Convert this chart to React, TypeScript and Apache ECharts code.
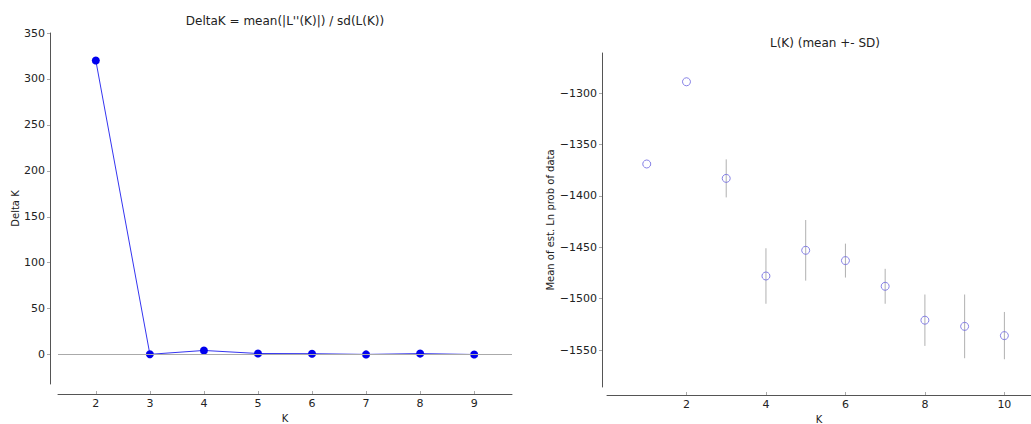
import React, { useEffect, useRef } from "react";
import * as echarts from "echarts";

// Left panel: DeltaK
const deltaKs = [2, 3, 4, 5, 6, 7, 8, 9];
const deltaValues = [320, 0.3, 4.5, 1.2, 1.0, 0.2, 1.1, 0.1];
const deltaYTicks = [0, 50, 100, 150, 200, 250, 300, 350];
const deltaXTicks = [2, 3, 4, 5, 6, 7, 8, 9];

// Right panel: L(K) mean +- SD
const lkKs = [1, 2, 3, 4, 5, 6, 7, 8, 9, 10];
const lkMeans = [-1369, -1289, -1383, -1478, -1453, -1463, -1488, -1521, -1527, -1536];
const lkSDs = [0, 0, 18.5, 27, 29.5, 16.5, 17, 25, 31, 23];
const lkYTicks = [-1550, -1500, -1450, -1400, -1350, -1300];
const lkXTicks = [2, 4, 6, 8, 10];

const FONT = "DejaVu Sans";
const AXIS_COLOR = "#555";
const TEXT_COLOR = "#222";

export default function App() {
  const ref = useRef<HTMLDivElement>(null);
  useEffect(() => {
    if (!ref.current) return;
    const chart = echarts.init(ref.current, undefined, { renderer: "svg" });
    const minus = (v: number) => String(v).replace("-", "\u2212");
    const axisCommon = {
      axisLine: { show: true, onZero: false, lineStyle: { color: AXIS_COLOR, width: 1 } },
      splitLine: { show: false },
      nameTextStyle: { fontFamily: FONT, fontSize: 10, color: TEXT_COLOR },
    };
    chart.setOption({
      animation: false,
      backgroundColor: "#fff",
      textStyle: { fontFamily: FONT },
      grid: [
        { left: 58, right: 1031 - 512, top: 33, bottom: 424 - 384, outerBoundsMode: "none", containLabel: false },
        { left: 607, right: 0, top: 53, bottom: 424 - 387, outerBoundsMode: "none", containLabel: false },
      ],
      xAxis: [
        {
          ...axisCommon,
          type: "value",
          gridIndex: 0,
          min: 1.3,
          max: 9.7,
          offset: 10,
          name: "K",
          nameLocation: "middle",
          nameGap: 16,
          axisTick: { show: true, inside: true, length: 3, customValues: deltaXTicks, lineStyle: { color: "#aaa" } },
          axisLabel: { customValues: deltaXTicks, fontFamily: FONT, fontSize: 11, color: TEXT_COLOR, margin: 4 },
        },
        {
          ...axisCommon,
          type: "value",
          gridIndex: 1,
          min: 0,
          max: 10.67,
          offset: 8,
          name: "K",
          nameLocation: "middle",
          nameGap: 16,
          axisTick: { show: true, inside: true, length: 3, customValues: lkXTicks, lineStyle: { color: "#aaa" } },
          axisLabel: { customValues: lkXTicks, fontFamily: FONT, fontSize: 11, color: TEXT_COLOR, margin: 4 },
        },
      ],
      yAxis: [
        {
          ...axisCommon,
          type: "value",
          gridIndex: 0,
          min: -32,
          max: 350,
          offset: 8,
          name: "Delta K",
          nameLocation: "middle",
          nameGap: 30,
          axisTick: { show: true, length: 3, customValues: deltaYTicks, lineStyle: { color: "#aaa" } },
          axisLabel: { customValues: deltaYTicks, fontFamily: FONT, fontSize: 11, color: TEXT_COLOR, margin: 5 },
        },
        {
          ...axisCommon,
          type: "value",
          gridIndex: 1,
          min: -1586,
          max: -1261,
          offset: 5,
          name: "Mean of est. Ln prob of data",
          nameLocation: "middle",
          nameGap: 45,
          axisTick: { show: true, length: 3, customValues: lkYTicks, lineStyle: { color: "#aaa" } },
          axisLabel: {
            customValues: lkYTicks,
            fontFamily: FONT,
            fontSize: 11,
            color: TEXT_COLOR,
            margin: 5,
            formatter: (v: number) => minus(v),
          },
        },
      ],
      graphic: [
        {
          type: "text",
          x: 285,
          y: 21,
          style: {
            text: "DeltaK = mean(|L''(K)|) / sd(L(K))",
            font: `12px "${FONT}"`,
            fill: TEXT_COLOR,
            align: "center",
            verticalAlign: "middle",
          },
        },
        {
          type: "text",
          x: 825,
          y: 43,
          style: {
            text: "L(K) (mean +- SD)",
            font: `12px "${FONT}"`,
            fill: TEXT_COLOR,
            align: "center",
            verticalAlign: "middle",
          },
        },
      ],
      series: [
        {
          type: "line",
          xAxisIndex: 0,
          yAxisIndex: 0,
          data: deltaKs.map((k, i) => [k, deltaValues[i]]),
          symbol: "circle",
          symbolSize: 8,
          itemStyle: { color: "#0000ee" },
          lineStyle: { color: "#3535f0", width: 1 },
          markLine: {
            silent: true,
            symbol: "none",
            label: { show: false },
            lineStyle: { color: "#aaa", width: 1, type: "solid" },
            data: [{ yAxis: 0 }],
          },
        },
        {
          type: "custom",
          xAxisIndex: 1,
          yAxisIndex: 1,
          data: lkKs.map((k, i) => [k, lkMeans[i] - lkSDs[i], lkMeans[i] + lkSDs[i]]),
          renderItem: (params: any, api: any) => {
            const lo = api.coord([api.value(0), api.value(1)]);
            const hi = api.coord([api.value(0), api.value(2)]);
            return {
              type: "line",
              shape: { x1: lo[0], y1: lo[1], x2: hi[0], y2: hi[1] },
              style: { stroke: "#b0b0b0", lineWidth: 1 },
            };
          },
          z: 1,
        },
        {
          type: "scatter",
          xAxisIndex: 1,
          yAxisIndex: 1,
          data: lkKs.map((k, i) => [k, lkMeans[i]]),
          symbol: "circle",
          symbolSize: 8,
          itemStyle: { color: "rgba(255,255,255,0)", borderColor: "#6a64e0", borderWidth: 1 },
          z: 3,
        },
      ],
    });
    return () => chart.dispose();
  }, []);
  return (
    <div
      ref={ref}
      style={{ position: "fixed", left: 0, top: 0, width: 1031, height: 424, background: "#fff" }}
    />
  );
}
